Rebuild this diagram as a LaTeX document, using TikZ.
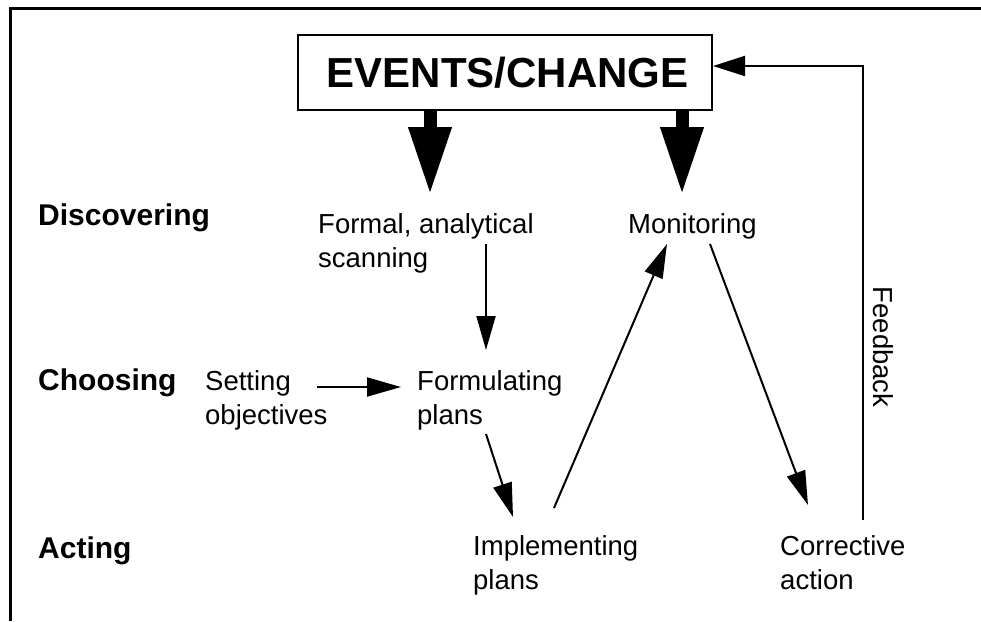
\documentclass[tikz,border=0pt]{standalone}
\usepackage{fontspec}
\setmainfont{Liberation Sans}
\usetikzlibrary{arrows.meta}
\begin{document}
\begin{tikzpicture}[x=1pt,y=-1pt,
  txt/.style={inner sep=0pt, anchor=base west, align=left, font=\fontsize{27.5}{34}\selectfont},
  lab/.style={inner sep=0pt, anchor=base west, font=\fontsize{30}{34}\selectfont\bfseries},
  thin/.style={line width=2pt, -{Triangle[length=34pt,width=19pt]}},
  big/.style={line width=13pt, -{Triangle[length=68pt,width=40pt]}},
  frame/.style={line width=3pt}
]
\useasboundingbox (0,0) rectangle (981,621);
\draw[frame] (10,621) -- (10,8) -- (981,8);

\node[draw, line width=2pt, minimum width=414pt, minimum height=75pt, inner sep=0pt,
      font=\fontsize{42}{50}\selectfont\bfseries] (events) at (505,72.5) {\hspace*{5pt}EVENTS/CHANGE};

\node[lab] (disc) at (38,225) {Discovering};
\node[lab] (choo) at (38,390) {Choosing};
\node[lab] (act) at (38,558) {Acting};

% multi-line nodes: base anchor = baseline of the last line
\node[txt] (formal) at (318,267) {Formal, analytical\\scanning};
\node[txt] (mon) at (628,233) {Monitoring};
\node[txt] (set) at (205,424) {Setting\\objectives};
\node[txt] (formu) at (417,424) {Formulating\\plans};
\node[txt] (impl) at (473,589) {Implementing\\plans};
\node[txt] (corr) at (780,589) {Corrective\\action};
\node[inner sep=0pt, rotate=-90, font=\fontsize{27.5}{34}\selectfont] (fb) at (883,347) {Feedback};

\draw[big] ([shift={(-75,0)}]events.south) -- ([shift={(112,-72)}]formal.base west);
\draw[big] ([shift={(177,0)}]events.south) -- ([shift={(54,-38)}]mon.base west);

\draw[thin] ([shift={(168,-23)}]formal.base west) -- ([shift={(69,-74)}]formu.base west);
\draw[thin] ([shift={(112,-37)}]set.base west) -- ([shift={(-16,-37)}]formu.base west);
\draw[thin] ([shift={(69,10)}]formu.base west) -- ([shift={(40,-72)}]impl.base west);
\draw[thin] ([shift={(81,-81)}]impl.base west) -- ([shift={(39,11)}]mon.base west);
\draw[thin] ([shift={(82,11)}]mon.base west) -- ([shift={(28,-84)}]corr.base west);
\draw[line width=2pt, -{Triangle[length=32pt,width=20pt]}]
  ([shift={(83,-69)}]corr.base west) |- ([shift={(0,-6.5)}]events.east);
\end{tikzpicture}
\end{document}
